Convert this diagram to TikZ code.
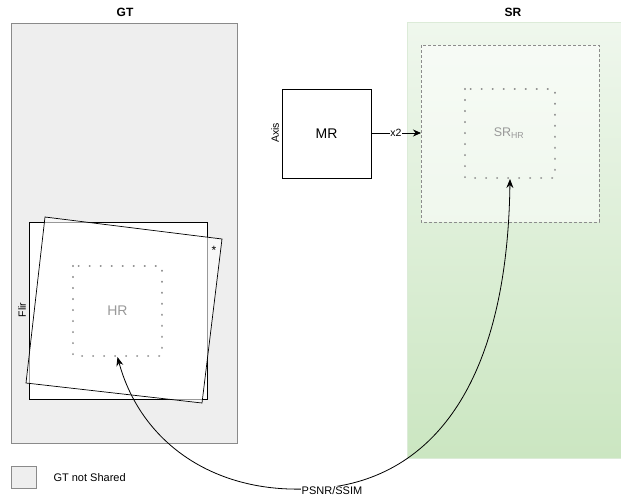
\documentclass[tikz,border=0pt]{standalone}
\usepackage{fontspec}
\setmainfont{Liberation Sans}
\usetikzlibrary{arrows.meta}
\definecolor{gtfill}{HTML}{EEEEEE}
\definecolor{gtline}{HTML}{8A8A8A}
\definecolor{srtop}{HTML}{EFF7ED}
\definecolor{srbot}{HTML}{CBE6C1}
\definecolor{srline}{HTML}{DCEBD8}
\definecolor{txtgray}{HTML}{999999}
\definecolor{dotgray}{HTML}{8C8C8C}
\tikzset{
  title/.style={font=\bfseries\fontsize{12}{14}\selectfont},
  small/.style={font=\fontsize{10.5}{12}\selectfont},
  big/.style={font=\fontsize{14}{16}\selectfont},
  dotbox/.style={draw=dotgray, line width=2.2pt, dash pattern=on 0.01pt off 11pt, line cap=round},
  arr/.style={-{Stealth[length=8pt,width=7pt]}, line width=0.8pt},
}
\begin{document}
\begin{tikzpicture}[x=1pt,y=-1pt]
\useasboundingbox (0,0) rectangle (621,498);
% GT panel
\node[title] (gtt) at (125,12) {GT};
\draw[gtline, fill=gtfill, line width=0.6pt] (11,23) rectangle (237,443);
% SR panel
\shade[top color=srtop, bottom color=srbot, draw=srline] (407,22) rectangle (621,458);
\node[title] (srt) at (513,12) {SR};
% dashed box in SR
\draw[dotgray, line width=0.9pt, fill=white, fill opacity=0.55, dash pattern=on 3pt off 2pt] (421,45) rectangle (599,222);
\coordinate (srin) at (421,133);
% dotted SR_HR
\draw[dotbox] (465,89) rectangle (555,178);
\node[font=\fontsize{12.5}{15}\selectfont, text=txtgray] (srhr) at (509,133) {SR\textsubscript{HR}};
\coordinate (srhrs) at (510,179);
% MR
\draw[line width=0.8pt] (282,89) rectangle (371,178);
\node[big] (mr) at (326.5,133.5) {MR};
\coordinate (mre) at (371,133);
\node[small, rotate=90] (axis) at (275,133) {Axis};
\draw[arr] (mre) -- node[small, fill=white, inner sep=0.5pt] (x2) {x2} (srin);
% GT boxes
\draw[line width=0.8pt, fill=white] (29,222) rectangle (207,399);
\draw[line width=0.7pt, fill=white, fill opacity=0.6] (45,217) -- (222,239) -- (202,403) -- (26,383) -- cycle;
\node[font=\fontsize{12}{12}\selectfont] (star) at (214,250) {*};
\node[small, rotate=90] (flir) at (22,310) {Flir};
\draw[dotbox] (73,266) rectangle (162,356);
\node[big, text=txtgray] (hr) at (117.5,311) {HR};
\coordinate (hrs) at (117.5,357);
% legend
\draw[gtline, fill=gtfill, line width=0.5pt] (11,466) rectangle (36,488);
\node[font=\fontsize{11}{13}\selectfont, anchor=west] (leg) at (50,477.5) {GT not Shared};
% PSNR/SSIM curve
\coordinate (mid) at (305,489);
\draw[{Stealth[length=9pt,width=7pt]}-{Stealth[length=9pt,width=7pt]}, line width=0.8pt]
  (hrs) .. controls (140,440) and (210,492) .. (mid)
  .. controls (420,488) and (507,400) .. (srhrs);
\node[font=\fontsize{11}{13}\selectfont, fill=white, inner sep=0.5pt] (psnr) at (332,491) {PSNR/SSIM};
\end{tikzpicture}
\end{document}
